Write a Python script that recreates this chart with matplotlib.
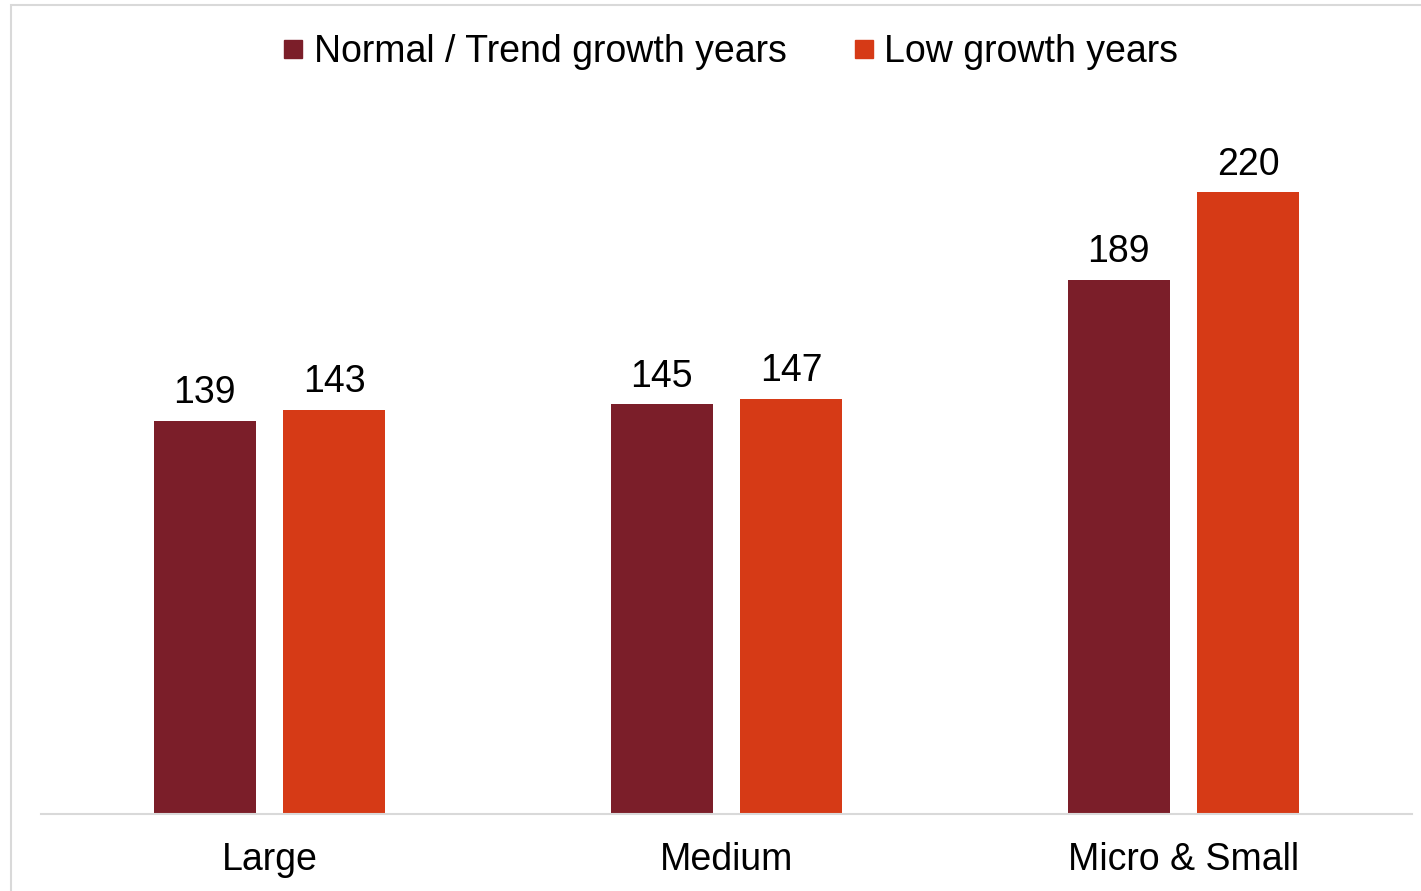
import matplotlib.pyplot as plt
from matplotlib.lines import Line2D
from matplotlib.patches import Rectangle

plt.rcParams['font.family'] = ['Liberation Sans', 'DejaVu Sans']

categories = ['Large', 'Medium', 'Micro & Small']
normal_years = [139, 145, 189]
low_years = [143, 147, 220]
series_names = ['Normal / Trend growth years', 'Low growth years']

DARK_RED = '#7B1E29'
ORANGE = '#D63A16'
GRID = '#D9D9D9'
FS = 27

W, H = 1421, 891
fig = plt.figure(figsize=(W / 100, H / 100), dpi=100)

# light outer frame (left/top edge visible)
fig.patches.append(Rectangle((11 / W, -0.05), 1.1, 1 - 5 / H + 0.05,
                             transform=fig.transFigure, fill=False,
                             edgecolor=GRID, linewidth=1.5))

ax = fig.add_axes([41 / W, 1 - 814 / H, 1371 / W, (814 - 107.5) / H])

x = list(range(len(categories)))
bw = 0.2233
off = 0.142
b1 = ax.bar([i - off for i in x], normal_years, width=bw, color=DARK_RED)
b2 = ax.bar([i + off for i in x], low_years, width=bw, color=ORANGE)
ax.bar_label(b1, padding=7, fontsize=FS)
ax.bar_label(b2, padding=7, fontsize=FS)

ax.set_xlim(-0.5, 2.5)
ax.set_ylim(0, 250)
ax.set_xticks(x)
ax.set_xticklabels(categories, fontsize=FS)
ax.tick_params(axis='x', length=0, pad=20)
ax.set_yticks([])
for s in ['top', 'right', 'left']:
    ax.spines[s].set_visible(False)
ax.spines['bottom'].set_color(GRID)
ax.spines['bottom'].set_linewidth(1.5)

handles = [Line2D([], [], marker='s', linestyle='', markersize=13, color=c)
           for c in (DARK_RED, ORANGE)]
fig.legend(handles, series_names, loc='center', bbox_to_anchor=(731 / W, 1 - 52 / H),
           ncol=2, frameon=False, fontsize=FS, handlelength=0.5, handletextpad=0.3,
           columnspacing=1.8, borderaxespad=0)

fig.savefig('out.png', dpi=100)
